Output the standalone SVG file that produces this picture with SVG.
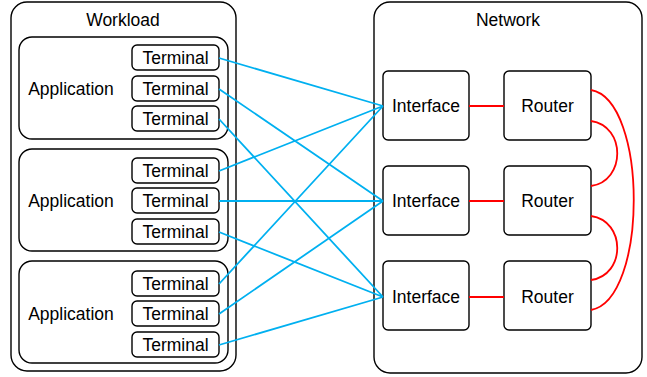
<svg xmlns="http://www.w3.org/2000/svg" width="647" height="377" viewBox="0 0 647 377">
<style>
.box{fill:#fff;stroke:#000;stroke-width:1.4}
.t{font-family:"Liberation Sans",Arial,sans-serif;font-size:17.5px;fill:#000;text-anchor:middle;dominant-baseline:central}
.blue{stroke:#00b0f0;stroke-width:1.8;fill:none}
.red{stroke:#ff0000;stroke-width:1.8;fill:none}
</style>
<g id="workload">
<rect class="box" x="11" y="2" width="225" height="369" rx="16"/>
<text class="t" x="123" y="20">Workload</text>
</g>
<g id="app1">
<rect class="box" x="19" y="37" width="209" height="102" rx="13"/>
<text class="t" x="71" y="89">Application</text>
</g>
<g id="app2">
<rect class="box" x="19" y="149" width="209" height="102" rx="13"/>
<text class="t" x="71" y="201">Application</text>
</g>
<g id="app3">
<rect class="box" x="19" y="261" width="209" height="102" rx="13"/>
<text class="t" x="71" y="314">Application</text>
</g>
<g id="term1"><rect class="box" x="132" y="45" width="87" height="25" rx="5"/><text class="t" x="175.5" y="58">Terminal</text></g>
<g id="term2"><rect class="box" x="132" y="76" width="87" height="25" rx="5"/><text class="t" x="175.5" y="89">Terminal</text></g>
<g id="term3"><rect class="box" x="132" y="106" width="87" height="25" rx="5"/><text class="t" x="175.5" y="119">Terminal</text></g>
<g id="term4"><rect class="box" x="132" y="158" width="87" height="25" rx="5"/><text class="t" x="175.5" y="171">Terminal</text></g>
<g id="term5"><rect class="box" x="132" y="188" width="87" height="25" rx="5"/><text class="t" x="175.5" y="201">Terminal</text></g>
<g id="term6"><rect class="box" x="132" y="219" width="87" height="25" rx="5"/><text class="t" x="175.5" y="232">Terminal</text></g>
<g id="term7"><rect class="box" x="132" y="271" width="87" height="25" rx="5"/><text class="t" x="175.5" y="284">Terminal</text></g>
<g id="term8"><rect class="box" x="132" y="301" width="87" height="25" rx="5"/><text class="t" x="175.5" y="314">Terminal</text></g>
<g id="term9"><rect class="box" x="132" y="332" width="87" height="25" rx="5"/><text class="t" x="175.5" y="345">Terminal</text></g>
<g id="network">
<rect class="box" x="374" y="2" width="268" height="371" rx="16"/>
<text class="t" x="508" y="20">Network</text>
</g>
<g id="if1"><rect class="box" x="383" y="71" width="86" height="69" rx="5"/><text class="t" x="426" y="106">Interface</text></g>
<g id="if2"><rect class="box" x="383" y="166" width="86" height="69" rx="5"/><text class="t" x="426" y="201">Interface</text></g>
<g id="if3"><rect class="box" x="383" y="261" width="86" height="69" rx="5"/><text class="t" x="426" y="297">Interface</text></g>
<g id="r1"><rect class="box" x="504" y="71" width="87" height="69" rx="5"/><text class="t" x="547.5" y="106">Router</text></g>
<g id="r2"><rect class="box" x="504" y="166" width="87" height="69" rx="5"/><text class="t" x="547.5" y="201">Router</text></g>
<g id="r3"><rect class="box" x="504" y="261" width="87" height="69" rx="5"/><text class="t" x="547.5" y="297">Router</text></g>
<g id="connectors">
<path class="blue" d="M219 58L383 106M219 89L383 201M219 119L383 297M219 171L383 106M219 201L383 201M219 232L383 297M219 284L383 106M219 314L383 201M219 345L383 297"/>
<path class="red" d="M469 106H504M469 201H504M469 297H504"/>
<path class="red" d="M591 90C648 100 648 300 591 310"/>
<path class="red" d="M591 121C626 126 626 181 591 186"/>
<path class="red" d="M591 216C626 221 626 275 591 280"/>
</g>
</svg>
